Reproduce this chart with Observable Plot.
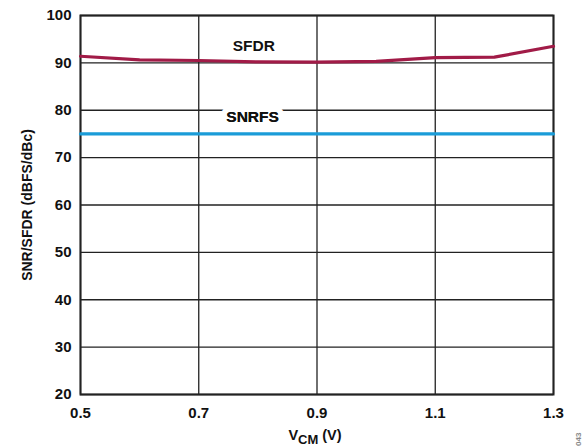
<!DOCTYPE html>
<html><head><meta charset="utf-8">
<script src="https://cdn.jsdelivr.net/npm/d3@7"></script>
<script src="https://cdn.jsdelivr.net/npm/@observablehq/plot@0.6"></script>
<style>body{margin:0;background:#fff} #chart{position:relative;width:587px;height:447px}</style>
</head><body><div id="chart"></div>
<script>
const vcm = [0.5, 0.6, 0.7, 0.8, 0.9, 1.0, 1.1, 1.2, 1.3];
const sfdr = [91.4, 90.65, 90.5, 90.2, 90.15, 90.3, 91.1, 91.2, 93.5];
const snrfs = [75, 75, 75, 75, 75, 75, 75, 75, 75];
const xTicks = [0.5, 0.7, 0.9, 1.1, 1.3];
const yTicks = [20, 30, 40, 50, 60, 70, 80, 90, 100];
const labelText = ["SFDR", "SNRFS"];
const labelX = [0.793, 0.791];
const labelY = [93.6, 78.5];

const sfdrData = vcm.map((x, i) => ({x, y: sfdr[i]}));
const snrData = vcm.map((x, i) => ({x, y: snrfs[i]}));
const labels = labelText.map((t, i) => ({t, x: labelX[i], y: labelY[i]}));

const font = "'Liberation Sans', Arial, Helvetica, sans-serif";
const chart = Plot.plot({
  width: 587, height: 447,
  marginLeft: 80, marginRight: 34, marginTop: 15, marginBottom: 53,
  style: {fontFamily: font, fontWeight: "bold", fontSize: "15px", color: "#111", background: "#fff"},
  x: {domain: [0.5, 1.3]},
  y: {domain: [20, 100]},
  marks: [
    Plot.gridX(xTicks, {stroke: "#222", strokeOpacity: 1, strokeWidth: 1.3}),
    Plot.gridY(yTicks, {stroke: "#222", strokeOpacity: 1, strokeWidth: 1.3}),
    Plot.frame({stroke: "#222", strokeWidth: 2}),
    Plot.axisX(xTicks, {tickSize: 0, tickPadding: 13, label: null, tickFormat: d => d.toFixed(1), fontSize: 15, fontWeight: "bold", fill: "#111"}),
    Plot.axisY(yTicks, {tickSize: 0, tickPadding: 9, label: null, fontSize: 15, fontWeight: "bold", fill: "#111"}),
    Plot.text(labels.filter(d => d.t === "SNRFS"), {x: "x", y: "y", text: "t", fill: "#111", stroke: "white", strokeWidth: 12, fontSize: 15.5, fontWeight: "bold"}),
    Plot.line(snrData, {x: "x", y: "y", stroke: "#1a9cd8", strokeWidth: 3.2}),
    Plot.line(sfdrData, {x: "x", y: "y", stroke: "#a11b47", strokeWidth: 3.2}),
    Plot.text(labels, {x: "x", y: "y", text: "t", fill: "#111", fontSize: 15.5, fontWeight: "bold"})
  ]
});
document.getElementById("chart").appendChild(chart);

const svg = d3.select(chart);
// y-axis title
svg.append("text")
  .attr("transform", "translate(31.5,205) rotate(-90)")
  .attr("text-anchor", "middle")
  .attr("font-family", font).attr("font-weight", "bold").attr("font-size", 14)
  .attr("fill", "#111")
  .text("SNR/SFDR (dBFS/dBc)");
// x-axis title with subscript
const xt = svg.append("text")
  .attr("x", 315).attr("y", 440)
  .attr("text-anchor", "middle")
  .attr("font-family", font).attr("font-weight", "bold").attr("font-size", 14.5)
  .attr("fill", "#111");
xt.append("tspan").text("V");
xt.append("tspan").attr("font-size", 13).attr("dy", 4).text("CM");
xt.append("tspan").attr("dy", -4).text(" (V)");
// figure code
svg.append("text")
  .attr("transform", "translate(581,446) rotate(-90)")
  .attr("text-anchor", "start")
  .attr("font-family", font).attr("font-size", 8)
  .attr("fill", "#888")
  .text("043");
</script></body></html>
